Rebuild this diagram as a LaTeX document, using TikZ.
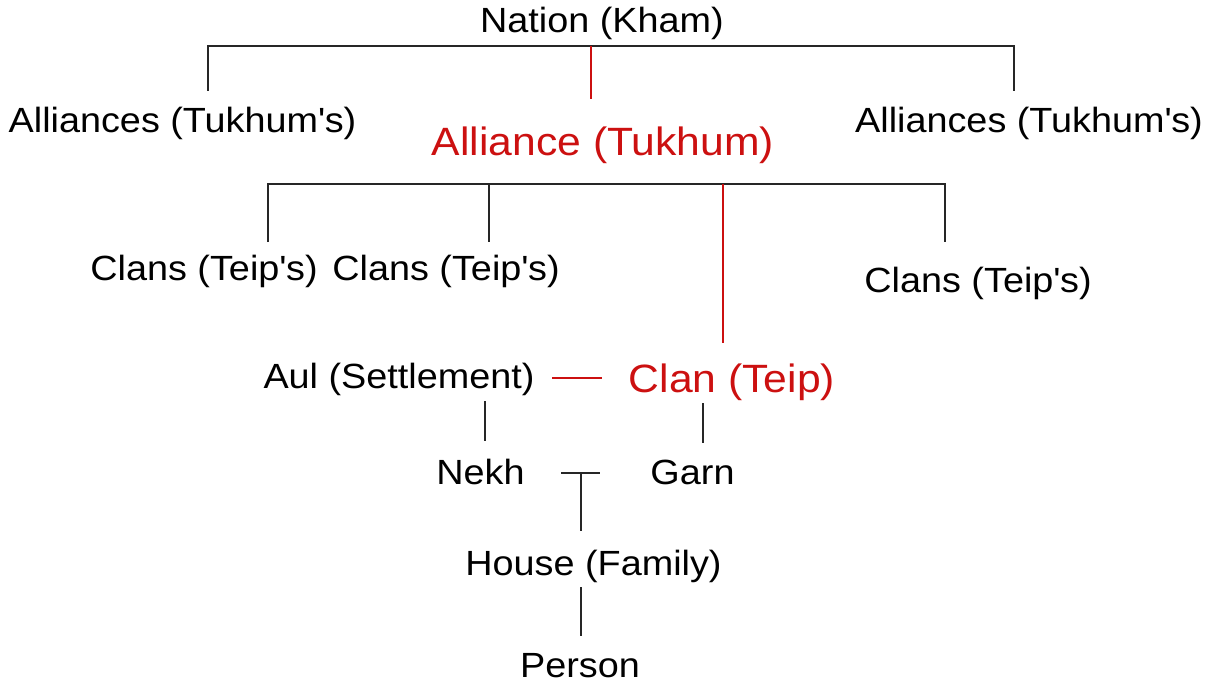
\documentclass[tikz,border=0pt]{standalone}
\usepackage{fontspec}
\setmainfont[FakeStretch=1.08]{Liberation Sans}
\definecolor{kred}{RGB}{204,16,16}
\newcommand{\apo}{\textquotesingle}
\tikzset{
  lbl/.style={inner sep=0pt, anchor=base, font=\fontsize{35}{38}\selectfont},
  rlbl/.style={inner sep=0pt, anchor=base, text=kred, font=\fontsize{39.5}{42}\selectfont},
  ln/.style={line width=1.8pt, black!85},
  rln/.style={line width=1.8pt, kred},
}
\begin{document}
\begin{tikzpicture}[x=1pt,y=-1pt]
\useasboundingbox (0,0) rectangle (1207,682);
% labels
\node[lbl] (nation) at (602,33) {Nation (Kham)};
\node[lbl] (alL) at (182.5,132) {Alliances (Tukhum\apo s)};
\node[lbl] (alR) at (1029,132) {Alliances (Tukhum\apo s)};
\node[rlbl] (alC) at (603,155) {Alliance (Tukhum)};
\node[lbl] (cl1) at (204,280) {Clans (Teip\apo s)};
\node[lbl] (cl2) at (446,280) {Clans (Teip\apo s)};
\node[lbl] (cl3) at (978,292) {Clans (Teip\apo s)};
\node[lbl] (aul) at (399,388) {Aul (Settlement)};
\node[rlbl] (clan) at (732,392) {Clan (Teip)};
\node[lbl] (nekh) at (480.5,484) {Nekh};
\node[lbl] (garn) at (692.5,484) {Garn};
\node[lbl] (house) at (593.5,575) {House (Family)};
\node[lbl] (person) at (580,677) {Person};
% junction coordinates
\coordinate (b1L) at (208,46);
\coordinate (b1C) at (591,46);
\coordinate (b1R) at (1014,46);
\coordinate (b1Ld) at (208,91);
\coordinate (b1Cd) at (591,99);
\coordinate (b1Rd) at (1014,91);
\coordinate (b2a) at (268,184);
\coordinate (b2b) at (489,184);
\coordinate (b2c) at (723,184);
\coordinate (b2d) at (945,184);
\coordinate (b2ad) at (268,242);
\coordinate (b2bd) at (489,242);
\coordinate (b2cd) at (723,343);
\coordinate (b2dd) at (945,242);
\coordinate (dashL) at (552,378);
\coordinate (dashR) at (602,378);
\coordinate (aulD) at (485,401);
\coordinate (aulDd) at (485,441);
\coordinate (clanD) at (703,403);
\coordinate (clanDd) at (703,443);
\coordinate (tL) at (561,473);
\coordinate (tR) at (600,473);
\coordinate (tM) at (581,473);
\coordinate (tMd) at (581,531);
\coordinate (hD) at (581,587);
\coordinate (hDd) at (581,636);
% connectors
\draw[ln] (b1Ld) -- (b1L) -- (b1R) -- (b1Rd);
\draw[rln] (b1C) -- (b1Cd);
\draw[ln] (b2ad) -- (b2a) -- (b2d) -- (b2dd);
\draw[ln] (b2b) -- (b2bd);
\draw[rln] (b2c) -- (b2cd);
\draw[rln] (dashL) -- (dashR);
\draw[ln] (aulD) -- (aulDd);
\draw[ln] (clanD) -- (clanDd);
\draw[ln] (tL) -- (tR);
\draw[ln] (tM) -- (tMd);
\draw[ln] (hD) -- (hDd);
\end{tikzpicture}
\end{document}
